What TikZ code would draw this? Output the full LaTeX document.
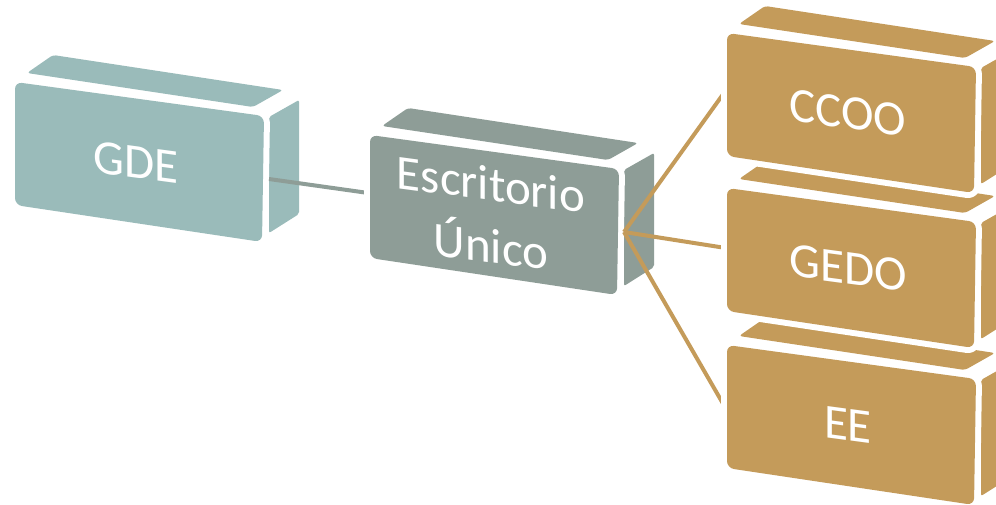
\documentclass[tikz,border=0pt]{standalone}
\usepackage{fontspec}
\setmainfont{Carlito}
\definecolor{gdecol}{RGB}{154,187,186}
\definecolor{midcol}{RGB}{142,157,151}
\definecolor{goldcol}{RGB}{196,155,90}
\tikzset{
  face/.style={fill=#1, preaction={draw=white, line width=12pt, line join=round}},
  boxtext/.style={text=white, font=\fontsize{49}{62}\selectfont, align=center, yslant=-0.134, inner sep=0pt},
  grayline/.style={draw=midcol, line width=4pt},
  goldline/.style={draw=goldcol, line width=4pt},
}
% #1 x, #2 y, #3 colour, #4 name, #5 text, #6 y of inbound connector end
\newcommand\cubox[6]{%
  \begin{scope}[shift={(#1,#2)}]
    \path[face=#3, rounded corners=3pt] (12,-9) -- (238,25) -- (268,8) -- (38,-27) -- cycle;
    \path[face=#3, rounded corners=2pt] (254,35) -- (284,18) -- (284,132) -- (254,151) -- cycle;
    \path[face=#3, rounded corners=7pt] (0,0) -- (249,34) -- (247,160) -- (0,123) -- cycle;
    \node[boxtext] (#4) at (121,80) {#5};
    \coordinate (#4-in) at (0,#6);
    \coordinate (#4-out) at (254,97);
  \end{scope}}
\begin{document}
\begin{tikzpicture}[x=1pt,y=-1pt]
\useasboundingbox (0,0) rectangle (996,504);
\clip (0,0) rectangle (996,504);
% left box
\cubox{15}{82}{gdecol}{gde}{GDE}{58}
% connector to the middle box (drawn before it, hidden by its white rim)
\coordinate (midin) at (372,193.5);
\draw[grayline] (gde-out) -- (midin);
% middle box
\cubox{370}{135}{midcol}{mid}{Escritorio\\Único}{58}
% connectors to the right boxes
\coordinate (ccooin) at (729,86);
\coordinate (gedoin) at (729,248.5);
\coordinate (eein) at (729,414);
\draw[goldline] (mid-out) -- (ccooin);
\draw[goldline] (mid-out) -- (gedoin);
\draw[goldline] (mid-out) -- (eein);
% right stack, bottom first
\cubox{727}{345}{goldcol}{ee}{EE}{69}
\cubox{727}{188}{goldcol}{gedo}{GEDO}{60.5}
\cubox{727}{33}{goldcol}{ccoo}{CCOO}{53}
\end{tikzpicture}
\end{document}
